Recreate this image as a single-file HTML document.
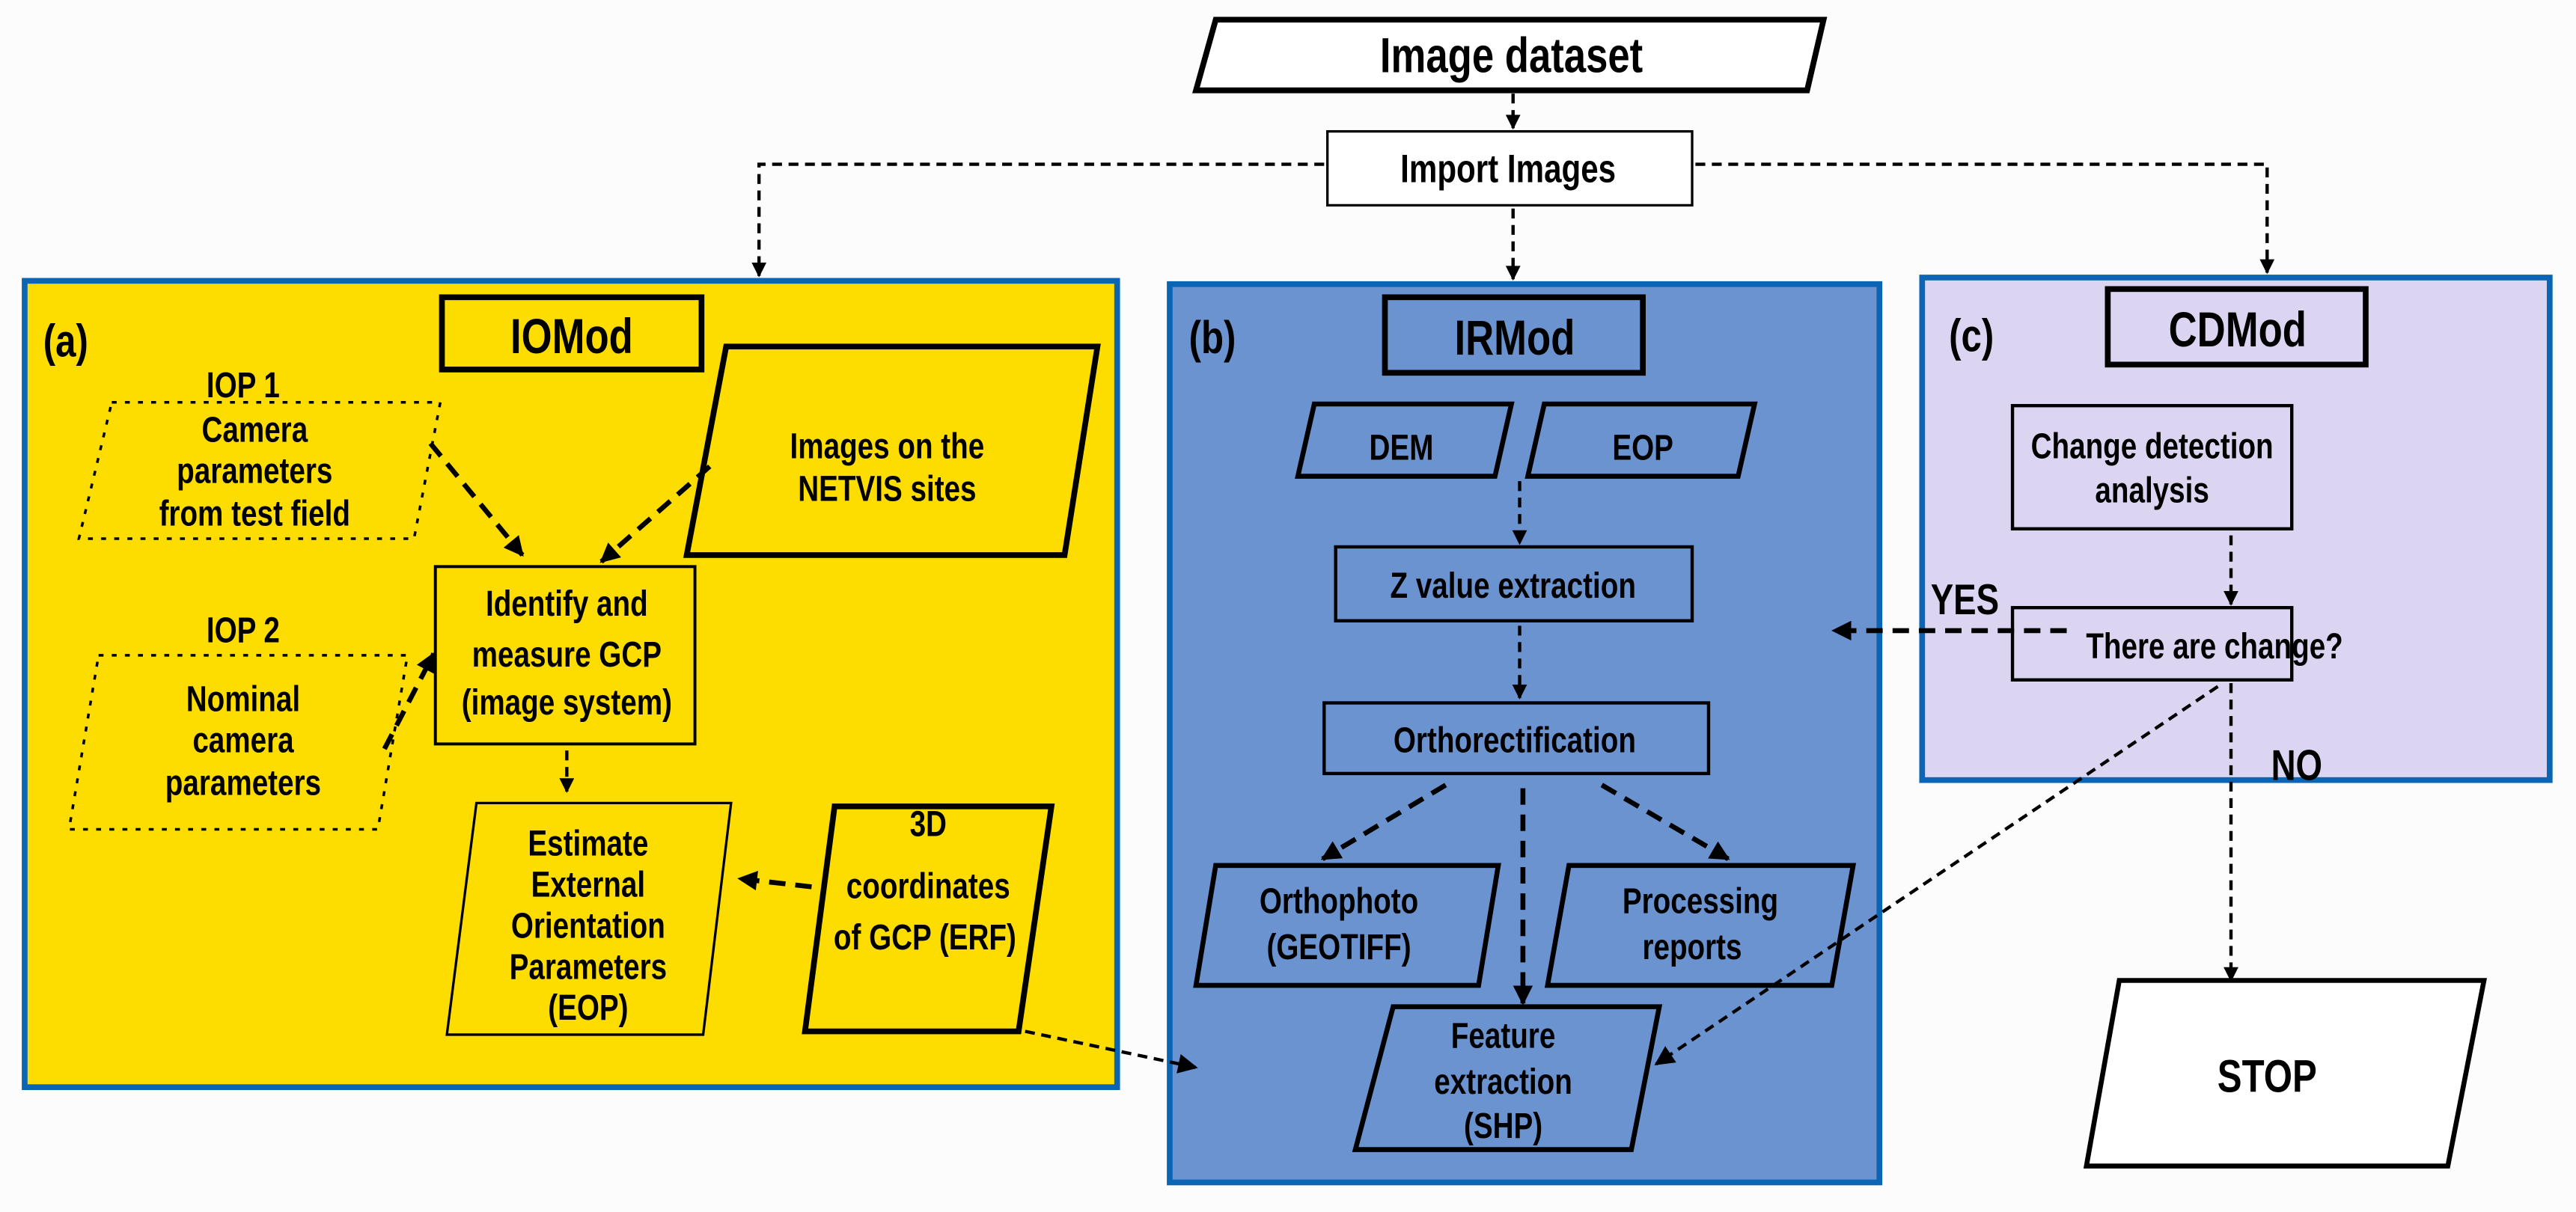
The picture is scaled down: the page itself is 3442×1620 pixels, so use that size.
<!DOCTYPE html>
<html><head><meta charset="utf-8"><style>
html,body{margin:0;padding:0;background:#fcfcfc}
svg{display:block}
text{font-family:"Liberation Sans Narrow","Liberation Sans",sans-serif;font-weight:bold;fill:#000;text-anchor:middle;transform-box:fill-box;transform-origin:center;transform:scaleX(0.8)}
</style></head><body>
<svg width="3442" height="1620" viewBox="0 0 1568 738" xmlns="http://www.w3.org/2000/svg">
<defs>
<marker id="ahm" viewBox="0 0 10 10" refX="9" refY="5" markerWidth="12" markerHeight="9" orient="auto" markerUnits="userSpaceOnUse"><path d="M0,0 L10,5 L0,10 z" fill="#000"/></marker>
<marker id="ahb" viewBox="0 0 10 10" refX="9" refY="5" markerWidth="14" markerHeight="12" orient="auto" markerUnits="userSpaceOnUse"><path d="M0,0 L10,5 L0,10 z" fill="#000"/></marker>
</defs>
<rect width="1568" height="738" fill="#fcfcfc"/>
<rect x="15" y="171" width="665" height="491" fill="#fddd00" stroke="#0b64b4" stroke-width="3.5"/>
<rect x="712" y="173" width="432" height="547" fill="#6a93cf" stroke="#0b64b4" stroke-width="3.5"/>
<rect x="1170" y="169" width="382" height="306" fill="#dcd5f2" stroke="#0b64b4" stroke-width="3.5"/>

<polygon points="740,12 1110,12 1100,55 728,55" fill="#fff" stroke="#000" stroke-width="3.5"/>
<text x="920" y="44" font-size="30">Image dataset</text>
<rect x="808" y="80" width="222" height="45" fill="#fff" stroke="#000" stroke-width="1.5"/>
<text x="918" y="111" font-size="24">Import Images</text>
<g stroke="#000" stroke-width="2" fill="none" stroke-dasharray="6,4">
<path d="M921,57 L921,78" marker-end="url(#ahm)"/>
<path d="M806,100 L462,100 L462,168" marker-end="url(#ahm)"/>
<path d="M1032,100 L1380,100 L1380,166" marker-end="url(#ahm)"/>
<path d="M921,127 L921,170" marker-end="url(#ahm)"/>
</g>

<text x="40" y="217" font-size="28">(a)</text>
<rect x="269" y="181" width="158" height="44" fill="none" stroke="#000" stroke-width="3.5"/>
<text x="348" y="215" font-size="30">IOMod</text>
<text x="148" y="242" font-size="22">IOP 1</text>
<polygon points="68,245 268,245 252,328 48,328" fill="none" stroke="#000" stroke-width="1.6" stroke-dasharray="3,5"/>
<text x="155" y="269" font-size="22">Camera</text>
<text x="155" y="294" font-size="22">parameters</text>
<text x="155" y="320" font-size="22">from test field</text>
<polygon points="442,211 668,211 648,338 418,338" fill="none" stroke="#000" stroke-width="3.5"/>
<text x="540" y="279" font-size="22">Images on the</text>
<text x="540" y="305" font-size="22">NETVIS sites</text>
<rect x="265" y="345" width="158" height="108" fill="none" stroke="#000" stroke-width="1.8"/>
<text x="345" y="375" font-size="22">Identify and</text>
<text x="345" y="406" font-size="22">measure GCP</text>
<text x="345" y="435" font-size="22">(image system)</text>
<text x="148" y="391" font-size="22">IOP 2</text>
<polygon points="60,399 248,399 230,505 42,505" fill="none" stroke="#000" stroke-width="1.6" stroke-dasharray="3,5"/>
<text x="148" y="433" font-size="22">Nominal</text>
<text x="148" y="458" font-size="22">camera</text>
<text x="148" y="484" font-size="22">parameters</text>
<polygon points="290,489 445,489 428,630 272,630" fill="none" stroke="#000" stroke-width="1.5"/>
<text x="358" y="521" font-size="22">Estimate</text>
<text x="358" y="546" font-size="22">External</text>
<text x="358" y="571" font-size="22">Orientation</text>
<text x="358" y="596" font-size="22">Parameters</text>
<text x="358" y="621" font-size="22">(EOP)</text>
<polygon points="508,491 640,491 620,628 490,628" fill="none" stroke="#000" stroke-width="3.5"/>
<text x="565" y="509" font-size="22">3D</text>
<text x="565" y="547" font-size="22">coordinates</text>
<text x="563" y="578" font-size="22">of GCP (ERF)</text>
<g stroke="#000" stroke-width="3" fill="none" stroke-dasharray="10,6">
<path d="M262,270 L318,338" marker-end="url(#ahb)"/>
<path d="M432,284 L366,342" marker-end="url(#ahb)"/>
<path d="M234,456 L264,398" marker-end="url(#ahb)"/>
<path d="M494,540 L450,535" marker-end="url(#ahb)"/>
</g>
<g stroke="#000" stroke-width="2" fill="none" stroke-dasharray="6,4">
<path d="M345,457 L345,482" marker-end="url(#ahm)"/>
<path d="M624,628 L728,650" marker-end="url(#ahb)"/>
</g>

<text x="738" y="215" font-size="28">(b)</text>
<rect x="843" y="181" width="157" height="46" fill="none" stroke="#000" stroke-width="3.5"/>
<text x="922" y="216" font-size="30">IRMod</text>
<polygon points="800,246 920,246 910,290 790,290" fill="none" stroke="#000" stroke-width="3"/>
<text x="853" y="280" font-size="22">DEM</text>
<polygon points="940,246 1068,246 1058,290 930,290" fill="none" stroke="#000" stroke-width="3"/>
<text x="1000" y="280" font-size="22">EOP</text>
<rect x="813" y="333" width="217" height="45" fill="none" stroke="#000" stroke-width="2"/>
<text x="921" y="364" font-size="22">Z value extraction</text>
<rect x="806" y="428" width="234" height="43" fill="none" stroke="#000" stroke-width="2"/>
<text x="922" y="458" font-size="22">Orthorectification</text>
<polygon points="740,527 912,527 900,600 728,600" fill="none" stroke="#000" stroke-width="3"/>
<text x="815" y="556" font-size="22">Orthophoto</text>
<text x="815" y="584" font-size="22">(GEOTIFF)</text>
<polygon points="955,527 1128,527 1115,600 942,600" fill="none" stroke="#000" stroke-width="3"/>
<text x="1035" y="556" font-size="22">Processing</text>
<text x="1030" y="584" font-size="22">reports</text>
<polygon points="848,613 1010,613 993,700 825,700" fill="none" stroke="#000" stroke-width="3"/>
<text x="915" y="638" font-size="22">Feature</text>
<text x="915" y="666" font-size="22">extraction</text>
<text x="915" y="693" font-size="22">(SHP)</text>
<g stroke="#000" stroke-width="2" fill="none" stroke-dasharray="6,4">
<path d="M925,293 L925,331" marker-end="url(#ahm)"/>
<path d="M925,381 L925,425" marker-end="url(#ahm)"/>
</g>
<g stroke="#000" stroke-width="3" fill="none" stroke-dasharray="10,6">
<path d="M880,478 L805,523" marker-end="url(#ahb)"/>
<path d="M927,480 L927,611" marker-end="url(#ahb)"/>
<path d="M975,478 L1052,523" marker-end="url(#ahb)"/>
</g>

<text x="1200" y="214" font-size="28">(c)</text>
<rect x="1283" y="176" width="157" height="46" fill="none" stroke="#000" stroke-width="3.5"/>
<text x="1362" y="211" font-size="30">CDMod</text>
<rect x="1225" y="247" width="170" height="75" fill="none" stroke="#000" stroke-width="2"/>
<text x="1310" y="279" font-size="22">Change detection</text>
<text x="1310" y="306" font-size="22">analysis</text>
<rect x="1225" y="370" width="170" height="44" fill="none" stroke="#000" stroke-width="2"/>
<text x="1348" y="401" font-size="22">There are change?</text>
<text x="1196" y="374" font-size="26">YES</text>
<text x="1398" y="475" font-size="26">NO</text>
<polygon points="1290,597 1512,597 1490,710 1270,710" fill="#fff" stroke="#000" stroke-width="3"/>
<text x="1380" y="665" font-size="28">STOP</text>
<g stroke="#000" stroke-width="2" fill="none" stroke-dasharray="6,4">
<path d="M1358,326 L1358,368" marker-end="url(#ahm)"/>
<path d="M1358,416 L1358,597" marker-end="url(#ahm)"/>
<path d="M1350,418 L1008,648" marker-end="url(#ahb)"/>
</g>
<path d="M1258,384 L1116,384" stroke="#000" stroke-width="3" fill="none" stroke-dasharray="10,6" marker-end="url(#ahb)"/>
</svg>
</body></html>
